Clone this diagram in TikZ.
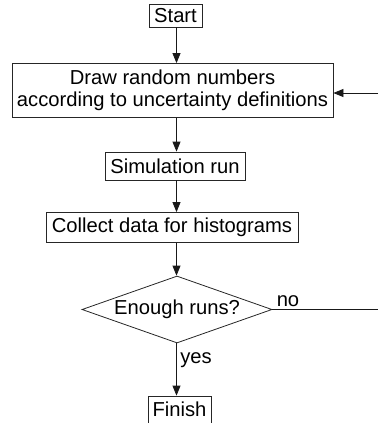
\documentclass[tikz,border=0pt]{standalone}
\usepackage{fontspec}
\setmainfont{Liberation Sans}
\usetikzlibrary{shapes.geometric,arrows.meta}
\begin{document}
\begin{tikzpicture}[x=1pt,y=1pt,
  every node/.style={font=\fontsize{20.2}{22}\selectfont, text=black},
  box/.style={draw=black!85, line width=0.8pt, inner sep=0pt, align=center},
  decision/.style={draw=black!85, line width=0.8pt, diamond, inner sep=0pt, shape aspect=2.8, minimum width=190pt, minimum height=67pt},
  flow/.style={draw=black!90, line width=0.8pt, -{Triangle[length=10pt,width=8pt]}},
  plain/.style={draw=black!90, line width=0.8pt},
  lbl/.style={inner sep=0pt, anchor=base}]
\useasboundingbox (0,0) rectangle (378,-423);
\node[box, minimum width=53pt, minimum height=23pt] (start) at (175.5,-15.5) {Start};
\node[box, minimum width=321pt, minimum height=54pt] (draw) at (172.5,-90.5) {Draw random numbers\\according to uncertainty definitions};
\node[box, minimum width=140pt, minimum height=28pt] (sim) at (175,-166) {Simulation run};
\node[box, minimum width=252pt, minimum height=30pt] (collect) at (172,-227.5) {Collect data for histograms};
\node[decision] (dec) at (177,-309.5) {Enough runs?};
\node[box, minimum width=63pt, minimum height=27pt] (finish) at (179.5,-409.5) {Finish};
\coordinate (noend) at (378,-309.5);
\coordinate (loopin) at (378,-93);
\path[flow] (start.south -| 176.5,0) -- (draw.north -| 176.5,0);
\path[flow] (draw.south -| 176.5,0) -- (sim.north -| 176.5,0);
\path[flow] (sim.south -| 176.5,0) -- (collect.north -| 176.5,0);
\path[flow] (collect.south -| 176.5,0) -- (dec.north -| 176.5,0);
\path[flow] (dec.south -| 176.5,0) -- (finish.north -| 176.5,0);
\path[plain] (dec.east) -- (noend);
\path[flow] (loopin) -- (loopin -| draw.east);
\node[lbl] (no) at (288,-306) {no};
\node[lbl] (yes) at (196,-363) {yes};
\end{tikzpicture}
\end{document}
